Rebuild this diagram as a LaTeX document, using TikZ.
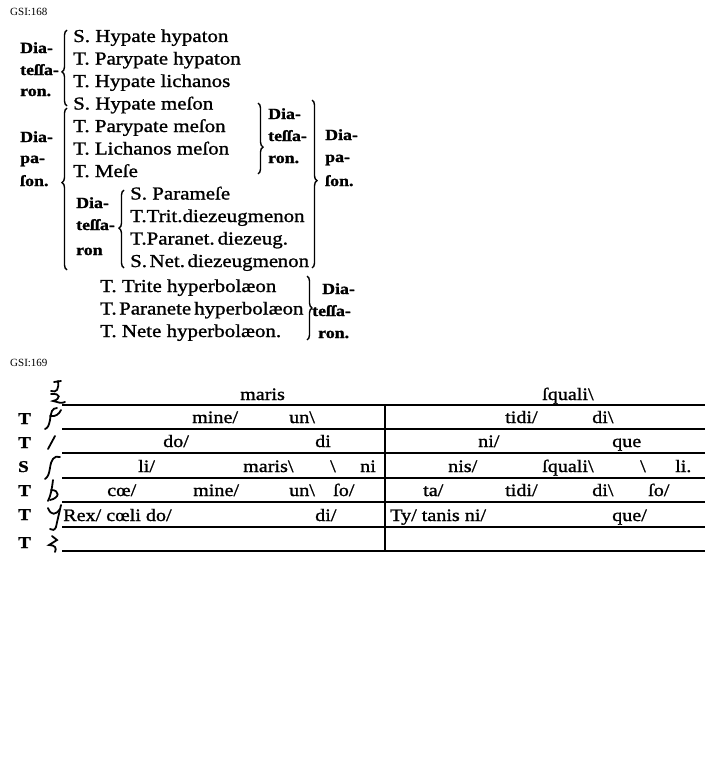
\documentclass[tikz,border=0pt]{standalone}
\usepackage{fontspec}
\setmainfont{Liberation Serif}[FakeStretch=1.15,FakeBold=1.2]
\newfontfamily\gsifont{Liberation Serif}
\usetikzlibrary{decorations.pathreplacing}
\tikzset{
  lst/.style={anchor=base west, inner sep=0pt, font=\fontsize{18.2}{20}\selectfont},
  lbl/.style={anchor=base west, inner sep=0pt, font=\fontsize{15.5}{17}\selectfont\bfseries},
  stx/.style={anchor=base west, inner sep=0pt, font=\fontsize{17.5}{19}\selectfont},
  voice/.style={anchor=base west, inner sep=0pt, font=\fontsize{16.5}{18}\selectfont\bfseries},
  gsi/.style={anchor=base west, inner sep=0pt, font=\gsifont\fontsize{11}{12}\selectfont},
  brc/.style={decorate, line width=1.4pt},
  staffline/.style={line width=1.7pt},
  clef/.style={line width=1.8pt, line cap=round},
}
\newcommand{\bs}{\textbackslash}
\begin{document}
\begin{tikzpicture}[x=1pt,y=-1pt]
\useasboundingbox[fill=white] (0,0) rectangle (720,776);

% ---------- GSI:168 ----------
\node[gsi] (g168) at (10,16) {GSI:168};

% list
\node[lst] (l1) at (73,42) {S. Hypate hypaton};
\node[lst] (l2) at (73,64.5) {T. Parypate hypaton};
\node[lst] (l3) at (73,87) {T. Hypate lichanos};
\node[lst] (l4) at (73,109.5) {S. Hypate meſon};
\node[lst] (l5) at (73,132) {T. Parypate meſon};
\node[lst] (l6) at (73,154.5) {T. Lichanos meſon};
\node[lst] (l7) at (73,177) {T. Meſe};
\node[lst] (l8) at (130,199.5) {S. Parameſe};
\node[lst] (l9) at (130,222) {T.Trit.diezeugmenon};
\node[lst] (l10) at (130,244.5) {T.Paranet.\kern3pt diezeug.};
\node[lst] (l11) at (130,267) {S.\kern2.5pt Net.\kern2.5pt diezeugme\kern-0.5pt non};
\node[lst] (l12) at (100,292) {T. Trite hyperbolæon};
\node[lst] (l13) at (100,314.5) {T.\kern2.5pt Paranete\kern3pt hyperbolæon};
\node[lst] (l14) at (100,337) {T. Nete hyperbolæon.};

% labels
\node[lbl] (a1) at (20,53) {Dia-};
\node[lbl] (a2) at (20,75) {teſſa-};
\node[lbl] (a3) at (20,96) {ron.};
\node[lbl] (b1) at (20,142) {Dia-};
\node[lbl] (b2) at (20,163) {pa-};
\node[lbl] (b3) at (20,186) {ſon.};
\node[lbl] (c1) at (76,208) {Dia-};
\node[lbl] (c2) at (76,230) {teſſa-};
\node[lbl] (c3) at (76,255) {ron};
\node[lbl] (d1) at (268,119) {Dia-};
\node[lbl] (d2) at (268,141) {teſſa-};
\node[lbl] (d3) at (268,163) {ron.};
\node[lbl] (e1) at (325,140) {Dia-};
\node[lbl] (e2) at (325,162) {pa-};
\node[lbl] (e3) at (325,186) {ſon.};
\node[lbl] (f1) at (322,294) {Dia-};
\node[lbl] (f2) at (312,316) {teſſa-};
\node[lbl] (f3) at (318,338) {ron.};

% braces
\coordinate (br1a) at (67,106); \coordinate (br1b) at (67,30);
\coordinate (br2a) at (67,270); \coordinate (br2b) at (67,108);
\coordinate (br3a) at (124,268); \coordinate (br3b) at (124,190);
\coordinate (br4a) at (258,103); \coordinate (br4b) at (258,174);
\coordinate (br5a) at (312,100); \coordinate (br5b) at (312,268);
\coordinate (br6a) at (307,276); \coordinate (br6b) at (307,340);
\draw[brc, decoration={brace, amplitude=5pt, aspect=0.45}] (br1a) -- (br1b);
\draw[brc, decoration={brace, amplitude=5pt, aspect=0.54}] (br2a) -- (br2b);
\draw[brc, decoration={brace, amplitude=5pt, aspect=0.51}] (br3a) -- (br3b);
\draw[brc, decoration={brace, amplitude=5pt, aspect=0.62}] (br4a) -- (br4b);
\draw[brc, decoration={brace, amplitude=5pt, aspect=0.48}] (br5a) -- (br5b);
\draw[brc, decoration={brace, amplitude=5pt, aspect=0.5}] (br6a) -- (br6b);

% ---------- GSI:169 ----------
\node[gsi] (g169) at (10,366) {GSI:169};

% staff lines
\foreach \i/\yy in {1/405,2/429,3/453,4/478,5/502,6/527,7/551}{
  \coordinate (sl\i) at (62,\yy);
  \coordinate (sr\i) at (705,\yy);
  \draw[staffline] (sl\i) -- (sr\i);
}
% barline
\coordinate (bar1) at (385,405);
\coordinate (bar2) at (385,551);
\draw[line width=1.7pt] (bar1) -- (bar2);

% voice letters
\node[voice] (v1) at (18,424) {T};
\node[voice] (v2) at (18,448) {T};
\node[voice] (v3) at (18,472) {S};
\node[voice] (v4) at (18,496) {T};
\node[voice] (v5) at (18,520) {T};
\node[voice] (v6) at (18,548) {T};

% clefs
\draw[clef] (54,382) -- (61,381);
\draw[clef] (58,381) .. controls (59,389) and (57,393) .. (51,391);
\draw[clef] (51,394) .. controls (61,393) and (61,399) .. (53,401) .. controls (58,402) and (61,404) .. (65,402);
\draw[clef] (57,408) .. controls (52,408) and (51,412) .. (50,420) .. controls (49,425) and (48,428) .. (45,429);
\draw[clef] (50,416) .. controls (56,417) and (59,414) .. (61,410);
\draw[clef] (55,436) -- (48,449);
\draw[clef] (60,457) .. controls (54,455) and (51,460) .. (50,468) .. controls (49,474) and (48,477) .. (45,479);
\draw[clef] (53,480) .. controls (52,488) and (51,495) .. (48,501);
\draw[clef] (51,490) .. controls (60,490) and (60,498) .. (50,500);
\draw[clef] (48,508) .. controls (51,516) and (56,515) .. (60,509);
\draw[clef] (61,505) .. controls (59,514) and (57,522) .. (56,527) .. controls (55,530) and (52,531) .. (50,529);
\draw[clef] (52,536) -- (57,540) -- (49,545) .. controls (55,545) and (57,548) .. (55,552);

% syllables row 0
\node[stx] (t01) at (240,400) {maris};
\node[stx] (t02) at (542,400) {ſquali\bs};
% row 1
\node[stx] (t11) at (192,423) {mine/};
\node[stx] (t12) at (289,423) {un\bs};
\node[stx] (t13) at (505,423) {tidi/};
\node[stx] (t14) at (592,423) {di\bs};
% row 2
\node[stx] (t21) at (163,447) {do/};
\node[stx] (t22) at (315,447) {di};
\node[stx] (t23) at (478,447) {ni/};
\node[stx] (t24) at (612,447) {que};
% row 3
\node[stx] (t31) at (138,472) {li/};
\node[stx] (t32) at (243,472) {maris\bs};
\node[stx] (t33) at (330,472) {\bs};
\node[stx] (t34) at (360,472) {ni};
\node[stx] (t35) at (448,472) {nis/};
\node[stx] (t36) at (542,472) {ſquali\bs};
\node[stx] (t37) at (640,472) {\bs};
\node[stx] (t38) at (675,472) {li.};
% row 4
\node[stx] (t41) at (107,496) {cœ/};
\node[stx] (t42) at (193,496) {mine/};
\node[stx] (t43) at (289,496) {un\bs};
\node[stx] (t44) at (333,496) {ſo/};
\node[stx] (t45) at (423,496) {ta/};
\node[stx] (t46) at (505,496) {tidi/};
\node[stx] (t47) at (592,496) {di\bs};
\node[stx] (t48) at (648,496) {ſo/};
% row 5
\node[stx] (t51) at (63,521) {Rex/ cœli do/};
\node[stx] (t52) at (315,521) {di/};
\node[stx] (t53) at (390,521) {Ty/ tanis ni/};
\node[stx] (t54) at (612,521) {que/};
\end{tikzpicture}
\end{document}
